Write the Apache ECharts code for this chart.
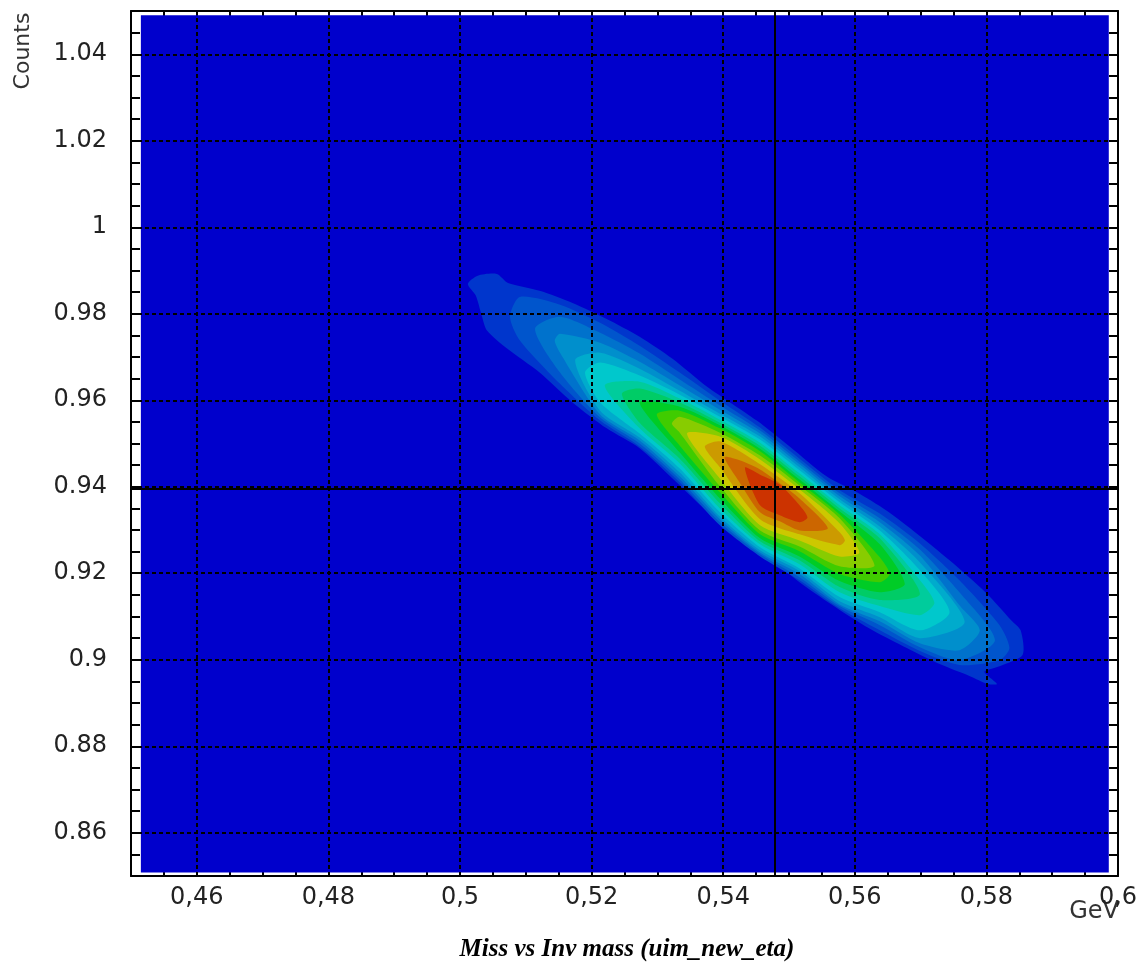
<!DOCTYPE html>
<html><head><meta charset="utf-8">
<script src="https://cdn.jsdelivr.net/npm/echarts@6/dist/echarts.min.js"></script>
<style>html,body{margin:0;padding:0;background:#fff}#c{width:1143px;height:963px}</style>
</head><body><div id="c"></div>
<script>
// axis ranges and tick labels
const xRange = [0.45, 0.6];
const yRange = [0.85, 1.05];
const xTickLabels = [0.46, 0.48, 0.5, 0.52, 0.54, 0.56, 0.58, 0.6];
const yTickLabels = [0.86, 0.88, 0.9, 0.92, 0.94, 0.96, 0.98, 1, 1.02, 1.04];
// filled histogram area and reference lines (eta mass, neutron mass)
const histRangeX = [0.4515, 0.5986];
const histRangeY = [0.8508, 1.0490];
const refLineX = [0.5478];
const refLineY = [0.9396];
const bgColor = '#0000CC';
const levelColors = ['#0036CC','#0055CC','#0072CC','#008FCC','#00ABCC','#00C8CC','#00CC9C','#00CC66','#00CC26','#40CC00','#88CC00','#CCC800','#CC9A00','#CC6600','#CC3300'];
// contour outlines, outermost first, [x GeV, y GeV]
const contour1 = [[0.5012,0.9869],[0.5027,0.9888],[0.5056,0.9892],[0.5073,0.9871],[0.5121,0.9853],[0.5171,0.9825],[0.5223,0.9788],[0.5273,0.9747],[0.5323,0.9696],[0.5375,0.9632],[0.5451,0.9553],[0.5501,0.9493],[0.5557,0.9424],[0.5603,0.9387],[0.5648,0.9345],[0.5694,0.9292],[0.5744,0.9230],[0.5800,0.9154],[0.5838,0.9091],[0.5852,0.9068],[0.5855,0.9011],[0.5820,0.8985],[0.5797,0.8972],[0.5816,0.8944],[0.5802,0.8944],[0.5775,0.8962],[0.5729,0.8990],[0.5679,0.9027],[0.5627,0.9068],[0.5577,0.9115],[0.5516,0.9179],[0.5466,0.9242],[0.5405,0.9299],[0.5369,0.9352],[0.5323,0.9419],[0.5273,0.9489],[0.5223,0.9535],[0.5171,0.9595],[0.5121,0.9664],[0.5071,0.9720],[0.5041,0.9761],[0.5033,0.9796],[0.5024,0.9842]];
const contour2 = [[0.5076,0.9793],[0.5091,0.9839],[0.5152,0.9821],[0.5213,0.9779],[0.5273,0.9726],[0.5334,0.9664],[0.5395,0.9599],[0.5456,0.9537],[0.5516,0.9465],[0.5577,0.9392],[0.5638,0.9338],[0.5699,0.9269],[0.5759,0.9184],[0.5820,0.9080],[0.5835,0.9027],[0.5820,0.8999],[0.5759,0.8988],[0.5699,0.9020],[0.5638,0.9068],[0.5577,0.9119],[0.5516,0.9184],[0.5456,0.9239],[0.5395,0.9311],[0.5334,0.9410],[0.5273,0.9493],[0.5213,0.9553],[0.5152,0.9638],[0.5091,0.9738]];
const contour3 = [[0.5114,0.9765],[0.5152,0.9793],[0.5213,0.9756],[0.5273,0.9708],[0.5334,0.9648],[0.5395,0.9588],[0.5456,0.9530],[0.5516,0.9458],[0.5577,0.9385],[0.5638,0.9327],[0.5699,0.9255],[0.5759,0.9156],[0.5813,0.9045],[0.5759,0.8999],[0.5699,0.9029],[0.5638,0.9080],[0.5577,0.9124],[0.5516,0.9191],[0.5456,0.9244],[0.5395,0.9318],[0.5334,0.9417],[0.5273,0.9500],[0.5213,0.9560],[0.5152,0.9664]];
const contour4 = [[0.5144,0.9738],[0.5152,0.9754],[0.5213,0.9733],[0.5273,0.9689],[0.5334,0.9634],[0.5395,0.9578],[0.5456,0.9523],[0.5516,0.9452],[0.5577,0.9378],[0.5638,0.9318],[0.5699,0.9241],[0.5759,0.9126],[0.5790,0.9068],[0.5759,0.9022],[0.5699,0.9038],[0.5638,0.9089],[0.5577,0.9128],[0.5516,0.9198],[0.5456,0.9248],[0.5395,0.9325],[0.5334,0.9424],[0.5273,0.9507],[0.5213,0.9567],[0.5152,0.9710]];
const contour5 = [[0.5175,0.9692],[0.5213,0.9710],[0.5273,0.9673],[0.5334,0.9622],[0.5395,0.9569],[0.5456,0.9516],[0.5516,0.9445],[0.5577,0.9371],[0.5638,0.9308],[0.5699,0.9225],[0.5767,0.9087],[0.5699,0.9050],[0.5638,0.9098],[0.5577,0.9135],[0.5516,0.9205],[0.5456,0.9253],[0.5395,0.9331],[0.5334,0.9433],[0.5273,0.9514],[0.5213,0.9576]];
const contour6 = [[0.5190,0.9664],[0.5213,0.9687],[0.5273,0.9657],[0.5334,0.9613],[0.5395,0.9562],[0.5456,0.9509],[0.5516,0.9438],[0.5577,0.9364],[0.5638,0.9299],[0.5699,0.9207],[0.5744,0.9110],[0.5699,0.9068],[0.5638,0.9110],[0.5577,0.9145],[0.5516,0.9211],[0.5456,0.9260],[0.5395,0.9341],[0.5334,0.9442],[0.5273,0.9523],[0.5213,0.9595]];
const contour7 = [[0.5220,0.9634],[0.5273,0.9643],[0.5334,0.9604],[0.5395,0.9555],[0.5456,0.9502],[0.5516,0.9431],[0.5577,0.9357],[0.5638,0.9290],[0.5699,0.9184],[0.5721,0.9131],[0.5699,0.9103],[0.5638,0.9124],[0.5577,0.9156],[0.5516,0.9221],[0.5456,0.9267],[0.5395,0.9350],[0.5334,0.9454],[0.5273,0.9535]];
const contour8 = [[0.5246,0.9615],[0.5273,0.9627],[0.5334,0.9595],[0.5395,0.9548],[0.5456,0.9495],[0.5516,0.9424],[0.5577,0.9350],[0.5638,0.9281],[0.5699,0.9152],[0.5638,0.9138],[0.5577,0.9168],[0.5516,0.9230],[0.5456,0.9274],[0.5395,0.9362],[0.5334,0.9465],[0.5273,0.9548]];
const contour9 = [[0.5273,0.9595],[0.5334,0.9585],[0.5395,0.9542],[0.5456,0.9488],[0.5516,0.9417],[0.5577,0.9343],[0.5638,0.9267],[0.5676,0.9175],[0.5638,0.9156],[0.5577,0.9182],[0.5516,0.9239],[0.5456,0.9281],[0.5395,0.9373],[0.5334,0.9479]];
const contour10 = [[0.5299,0.9567],[0.5334,0.9576],[0.5395,0.9535],[0.5456,0.9482],[0.5516,0.9410],[0.5577,0.9336],[0.5638,0.9237],[0.5653,0.9198],[0.5638,0.9179],[0.5577,0.9198],[0.5516,0.9251],[0.5456,0.9290],[0.5395,0.9387],[0.5334,0.9495]];
const contour11 = [[0.5322,0.9546],[0.5334,0.9562],[0.5395,0.9525],[0.5456,0.9472],[0.5516,0.9403],[0.5577,0.9327],[0.5630,0.9218],[0.5577,0.9216],[0.5516,0.9262],[0.5456,0.9299],[0.5395,0.9401],[0.5334,0.9525]];
const contour12 = [[0.5345,0.9523],[0.5395,0.9516],[0.5456,0.9463],[0.5516,0.9394],[0.5577,0.9315],[0.5607,0.9248],[0.5577,0.9239],[0.5516,0.9276],[0.5456,0.9311],[0.5395,0.9419]];
const contour13 = [[0.5372,0.9493],[0.5395,0.9505],[0.5456,0.9452],[0.5516,0.9385],[0.5577,0.9295],[0.5585,0.9276],[0.5577,0.9265],[0.5516,0.9290],[0.5456,0.9325],[0.5395,0.9445]];
const contour14 = [[0.5402,0.9468],[0.5425,0.9461],[0.5456,0.9440],[0.5486,0.9408],[0.5516,0.9373],[0.5559,0.9304],[0.5516,0.9299],[0.5486,0.9320],[0.5456,0.9341],[0.5425,0.9410]];
const contour15 = [[0.5433,0.9444],[0.5456,0.9428],[0.5486,0.9405],[0.5516,0.9357],[0.5528,0.9329],[0.5516,0.9318],[0.5486,0.9334],[0.5456,0.9357]];
const contourLevels = [contour1,contour2,contour3,contour4,contour5,contour6,contour7,contour8,contour9,contour10,contour11,contour12,contour13,contour14,contour15];

const chart = echarts.init(document.getElementById('c'), null, {renderer: 'canvas'});
const fmt = (list, sep) => v => { const t = list.find(t => Math.abs(t - v) < 1e-7); return t === undefined ? '' : String(t).replace('.', sep); };
const labelFont = {color: '#222', fontFamily: 'DejaVu Sans', fontSize: 24};
const axisLineStyle = {show: true, onZero: false, lineStyle: {color: '#000', width: 2}};
function xAx(pos, show) {
  return {type: 'value', min: xRange[0], max: xRange[1], interval: 0.005, position: pos,
    axisLine: axisLineStyle,
    axisTick: {show: true, inside: true, length: 6, lineStyle: {color: '#000', width: 2}},
    axisLabel: Object.assign({show: show, margin: 10, formatter: fmt(xTickLabels, ','), showMinLabel: false, showMaxLabel: true}, labelFont),
    splitLine: {show: false}};
}
function yAx(pos, show) {
  return {type: 'value', min: yRange[0], max: yRange[1], interval: 0.005, position: pos,
    axisLine: axisLineStyle,
    axisTick: {show: true, inside: true, length: 9, lineStyle: {color: '#000', width: 2}},
    axisLabel: Object.assign({show: show, margin: 24, formatter: fmt(yTickLabels, '.'), showMinLabel: false, showMaxLabel: false}, labelFont),
    splitLine: {show: false}};
}
const gridLines = xTickLabels.map(v => ({xAxis: v})).concat(yTickLabels.map(v => ({yAxis: v})));
const refLines = refLineX.map(v => ({xAxis: v})).concat(refLineY.map(v => ({yAxis: v})));

const option = {
  animation: false,
  backgroundColor: '#ffffff',
  grid: {left: 131, top: 11, width: 987, height: 865, containLabel: false, outerBoundsMode: 'none'},
  xAxis: [xAx('bottom', true), xAx('top', false)],
  yAxis: [yAx('left', true), yAx('right', false)],
  graphic: [
    {type: 'text', x: 23, y: 51, rotation: Math.PI / 2, style: {text: 'Counts', fill: '#333', font: '22px "DejaVu Sans"', textAlign: 'center', textVerticalAlign: 'middle'}},
    {type: 'text', x: 1119, y: 900, style: {text: 'GeV', fill: '#333', font: '24px "DejaVu Sans"', textAlign: 'right', textVerticalAlign: 'top'}},
    {type: 'text', x: 627, y: 950, style: {text: 'Miss vs Inv mass (uim_new_eta)', fill: '#000', font: 'italic bold 25px "Liberation Serif"', textAlign: 'center', textVerticalAlign: 'middle'}}
  ],
  series: [
    {type: 'custom', coordinateSystem: 'cartesian2d', z: 1, silent: true,
      data: [[histRangeX[0], histRangeY[0], histRangeX[1], histRangeY[1]]],
      renderItem: (params, api) => {
        const p0 = api.coord([api.value(0), api.value(3)]);
        const p1 = api.coord([api.value(2), api.value(1)]);
        return {type: 'rect', shape: {x: p0[0], y: p0[1], width: p1[0] - p0[0], height: p1[1] - p0[1]}, style: {fill: bgColor}};
      }},
    {type: 'custom', coordinateSystem: 'cartesian2d', z: 2, silent: true,
      data: contourLevels.map(c => c[0]),
      renderItem: (params, api) => {
        const pts = contourLevels[params.dataIndex].map(p => api.coord(p));
        return {type: 'polygon', shape: {points: pts, smooth: 0.25}, style: {fill: levelColors[params.dataIndex]}};
      },
      markLine: {silent: true, symbol: ['none', 'none'], label: {show: false}, z: 5, precision: 6,
        data: gridLines.map(d => Object.assign({lineStyle: {color: '#000', width: 2, type: [4, 3]}}, d))
          .concat(refLines.map(d => Object.assign({lineStyle: {color: '#000', width: 2, type: 'solid'}}, d)))}
    }
  ]
};
chart.setOption(option);
</script></body></html>
